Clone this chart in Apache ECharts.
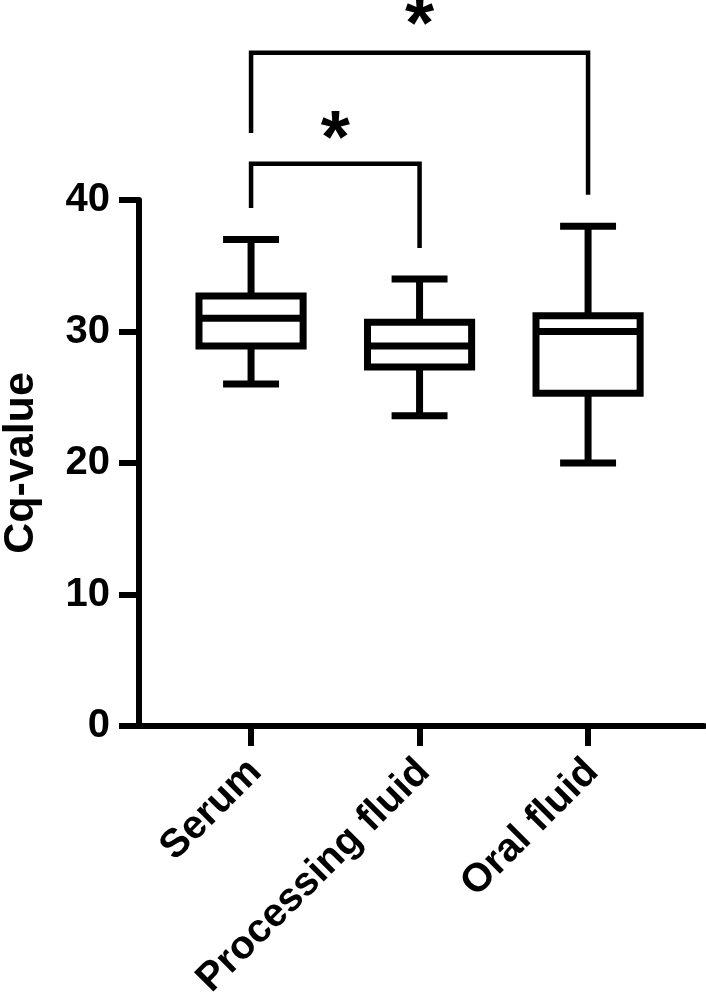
<!DOCTYPE html>
<html>
<head>
<meta charset="utf-8">
<script src="https://cdn.jsdelivr.net/npm/echarts@6/dist/echarts.min.js"></script>
<style>
  html, body { margin: 0; background: #fff; }
  #chart { width: 706px; height: 1002px; }
</style>
</head>
<body>
<div id="chart"></div>
<script>
// box plot values (whisker min / Q1 / median / Q3 / whisker max)
const categories = ['Serum', 'Processing fluid', 'Oral fluid'];
const whiskerMin = [26.0, 23.6, 20.0];
const q1 = [28.9, 27.3, 25.3];
const median = [31.0, 28.9, 30.0];
const q3 = [32.7, 30.7, 31.2];
const whiskerMax = [37.0, 34.0, 38.0];
const yTicks = [0, 10, 20, 30, 40];

// significance brackets: groups joined, leg bottoms, bar height, star height
const bracketFrom = [0, 0];
const bracketTo = [1, 2];
const legLeft = [39.4, 45.1];
const legRight = [36.35, 40.4];
const barY = [42.75, 51.2];
const starY = [44.5, 53.1];
const starText = ['*', '*'];

const chart = echarts.init(document.getElementById('chart'));
const font = '"Liberation Sans", Arial, sans-serif';
const ink = '#000';

const boxData = categories.map((c, i) => [i, whiskerMin[i], q1[i], median[i], q3[i], whiskerMax[i]]);
const bracketData = bracketFrom.map((f, k) => [f, bracketTo[k], legLeft[k], legRight[k], barY[k], starY[k]]);

function renderBox(params, api) {
  const i = api.value(0);
  const x = api.coord([i, 0])[0];
  const band = api.size([1, 0])[0];
  const half = band * 0.309;
  const capHalf = band * 0.166;
  const yMin = api.coord([i, api.value(1)])[1];
  const yQ1 = api.coord([i, api.value(2)])[1];
  const yMed = api.coord([i, api.value(3)])[1];
  const yQ3 = api.coord([i, api.value(4)])[1];
  const yMax = api.coord([i, api.value(5)])[1];
  const style = { stroke: ink, lineWidth: 7, fill: null };
  return {
    type: 'group',
    children: [
      { type: 'line', shape: { x1: x, y1: yMax, x2: x, y2: yQ3 }, style },
      { type: 'line', shape: { x1: x - capHalf, y1: yMax, x2: x + capHalf, y2: yMax }, style },
      { type: 'line', shape: { x1: x, y1: yQ1, x2: x, y2: yMin }, style },
      { type: 'line', shape: { x1: x - capHalf, y1: yMin, x2: x + capHalf, y2: yMin }, style },
      { type: 'rect', shape: { x: x - half, y: yQ3, width: half * 2, height: yQ1 - yQ3 }, style },
      { type: 'line', shape: { x1: x - half, y1: yMed, x2: x + half, y2: yMed }, style }
    ]
  };
}

function renderBracket(params, api) {
  const a = api.coord([api.value(0), api.value(2)]);
  const b = api.coord([api.value(1), api.value(3)]);
  const top = api.coord([0, api.value(4)])[1];
  const star = api.coord([0, api.value(5)])[1];
  return {
    type: 'group',
    children: [
      {
        type: 'polyline',
        shape: { points: [[a[0], a[1]], [a[0], top], [b[0], top], [b[0], b[1]]] },
        style: { stroke: ink, lineWidth: 4.5, fill: null }
      },
      {
        type: 'text',
        style: {
          text: starText[params.dataIndex],
          x: (a[0] + b[0]) / 2,
          y: star,
          align: 'center',
          verticalAlign: 'middle',
          fontSize: 75,
          fontWeight: 'bold',
          fontFamily: font,
          fill: ink
        }
      }
    ]
  };
}

const option = {
  backgroundColor: '#fff',
  animation: false,
  grid: { left: 139, right: 2, top: 200, bottom: 276, outerBoundsMode: 'none', containLabel: false },
  xAxis: {
    type: 'value',
    min: -0.665,
    max: 2.688,
    splitLine: { show: false },
    axisLine: { show: true, onZero: false, lineStyle: { color: ink, width: 6 } },
    axisTick: {
      show: true,
      customValues: [0, 1, 2],
      length: 20,
      lineStyle: { color: ink, width: 6 }
    },
    axisLabel: {
      customValues: [0, 1, 2],
      formatter: v => categories[v],
      rotate: 45,
      margin: 44,
      padding: [0, -6, 0, 0],
      color: ink,
      fontSize: 40,
      fontWeight: 'bold',
      fontFamily: font
    }
  },
  yAxis: {
    type: 'value',
    min: yTicks[0],
    max: yTicks[yTicks.length - 1],
    interval: 10,
    name: 'Cq-value',
    nameLocation: 'middle',
    nameGap: 96,
    nameTextStyle: { color: ink, fontSize: 43, fontWeight: 'bold', fontFamily: font },
    splitLine: { show: false },
    axisLine: { show: true, onZero: false, lineStyle: { color: ink, width: 6 } },
    axisTick: { show: true, length: 20, lineStyle: { color: ink, width: 6 } },
    axisLabel: { margin: 29, color: ink, fontSize: 40, fontWeight: 'bold', fontFamily: font }
  },
  series: [
    {
      type: 'custom',
      name: 'box',
      renderItem: renderBox,
      data: boxData,
      clip: false,
      silent: true
    },
    {
      type: 'custom',
      name: 'brackets',
      renderItem: renderBracket,
      data: bracketData,
      clip: false,
      silent: true
    }
  ]
};

chart.setOption(option);
</script>
</body>
</html>
